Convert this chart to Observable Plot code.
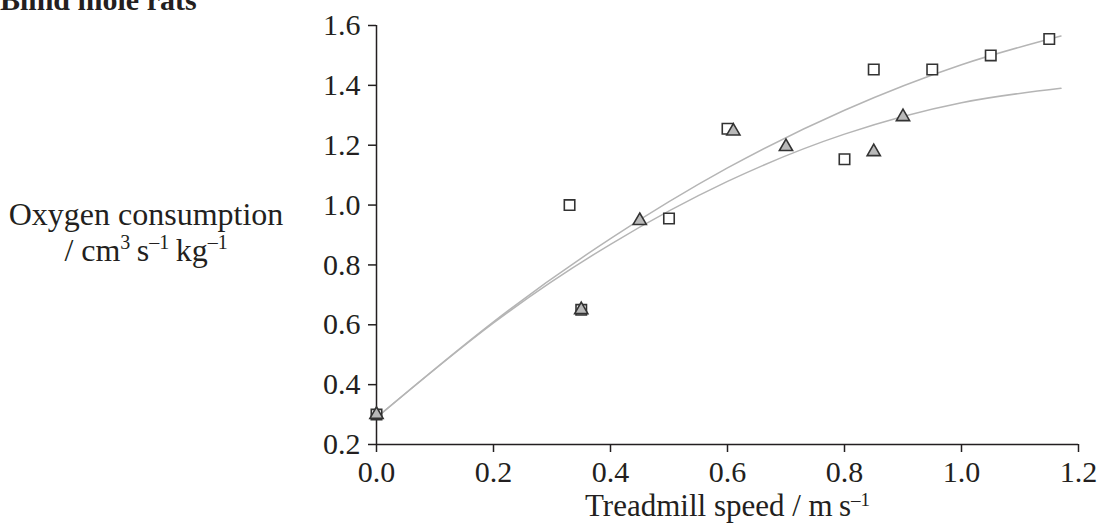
<!DOCTYPE html>
<html>
<head>
<meta charset="utf-8">
<script src="https://cdn.jsdelivr.net/npm/d3@7"></script>
<script src="https://cdn.jsdelivr.net/npm/@observablehq/plot@0.6"></script>
<style>
  html, body { margin: 0; padding: 0; background: white; overflow: hidden; }
</style>
</head>
<body>
<div id="chart"></div>
<script>
// Open squares
const squareX = [0, 0.33, 0.35, 0.50, 0.60, 0.80, 0.85, 0.95, 1.05, 1.15];
const squareY = [0.30, 1.00, 0.65, 0.955, 1.255, 1.153, 1.453, 1.453, 1.50, 1.555];
// Grey triangles
const triX = [0, 0.35, 0.45, 0.61, 0.70, 0.85, 0.90];
const triY = [0.30, 0.65, 0.948, 1.247, 1.195, 1.178, 1.295];
// Fitted curves
const fitX = [0, 0.2, 0.4, 0.6, 0.8, 1.0, 1.17];
const fitSquareY = [0.29, 0.610, 0.888, 1.124, 1.317, 1.469, 1.565];
const fitTriY = [0.29, 0.606, 0.869, 1.079, 1.237, 1.342, 1.390];
// Ticks
const xTicks = [0, 0.2, 0.4, 0.6, 0.8, 1.0, 1.2];
const yTicks = [0.2, 0.4, 0.6, 0.8, 1.0, 1.2, 1.4, 1.6];

const squares = squareX.map((x, i) => ({x, y: squareY[i]}));
const tris = triX.map((x, i) => ({x, y: triY[i]}));
const fitS = fitX.map((x, i) => ({x, y: fitSquareY[i]}));
const fitT = fitX.map((x, i) => ({x, y: fitTriY[i]}));

const ink = "#231f20";
const fmt = d3.format(".1f");

const chart = Plot.plot({
  width: 1098,
  height: 529,
  marginLeft: 376,
  marginRight: 20,
  marginTop: 25,
  marginBottom: 85,
  style: {fontFamily: "'Liberation Serif', 'Times New Roman', serif", fontSize: "30px", color: ink, background: "white"},
  x: {domain: [0, 1.2]},
  y: {domain: [0.2, 1.6]},
  marks: [
    Plot.line(fitS, {x: "x", y: "y", curve: "natural", stroke: "#b5b5b5", strokeWidth: 1.5}),
    Plot.line(fitT, {x: "x", y: "y", curve: "natural", stroke: "#b5b5b5", strokeWidth: 1.5}),
    Plot.ruleX([0], {y1: 0.2, y2: 1.6, stroke: ink, strokeWidth: 1.5}),
    Plot.ruleY([0.2], {x1: 0, x2: 1.2, stroke: ink, strokeWidth: 1.5}),
    Plot.axisX({ticks: xTicks, tickFormat: fmt, tickSize: 8, tickPadding: 8, label: null, stroke: ink, strokeWidth: 1.5, fill: ink}),
    Plot.axisY({ticks: yTicks, tickFormat: fmt, tickSize: 8, tickPadding: 8, label: null, stroke: ink, strokeWidth: 1.5, fill: ink}),
    Plot.dot(squares, {x: "x", y: "y", symbol: "square", r: 5.9, fill: "white", stroke: "#333", strokeWidth: 1.6}),
    Plot.dot(tris, {x: "x", y: "y", symbol: "triangle", r: 4.9, fill: "#b9b9b9", stroke: "#333", strokeWidth: 1.6})
  ]
});

document.getElementById("chart").appendChild(chart);

const svg = d3.select(chart);
const font = "'Liberation Serif', 'Times New Roman', serif";

// Title (partially cut off at top, as in the reference)
svg.append("text")
  .attr("x", 0).attr("y", 10).attr("text-anchor", "start")
  .attr("font-family", font).attr("font-size", 30).attr("font-weight", "bold")
  .attr("fill", ink)
  .text("Blind mole rats");

// Y label
svg.append("text")
  .attr("x", 146).attr("y", 225).attr("text-anchor", "middle")
  .attr("font-family", font).attr("font-size", 32).attr("fill", ink)
  .text("Oxygen consumption");
const yl2 = svg.append("text")
  .attr("x", 146).attr("y", 261).attr("text-anchor", "middle")
  .attr("font-family", font).attr("font-size", 32).attr("fill", ink);
yl2.append("tspan").text("/ cm");
yl2.append("tspan").attr("font-size", 20).attr("dy", -12).text("3");
yl2.append("tspan").attr("dy", 12).text("\u2009s");
yl2.append("tspan").attr("font-size", 20).attr("dy", -12).text("\u20131");
yl2.append("tspan").attr("dy", 12).text("\u2009kg");
yl2.append("tspan").attr("font-size", 20).attr("dy", -12).text("\u20131");

// X label
const xl = svg.append("text")
  .attr("x", 585).attr("y", 516).attr("text-anchor", "start")
  .attr("font-family", font).attr("font-size", 31).attr("fill", ink);
xl.append("tspan").text("Treadmill speed / m\u2009s");
xl.append("tspan").attr("font-size", 19).attr("dy", -10).text("\u20131");
</script>
</body>
</html>
